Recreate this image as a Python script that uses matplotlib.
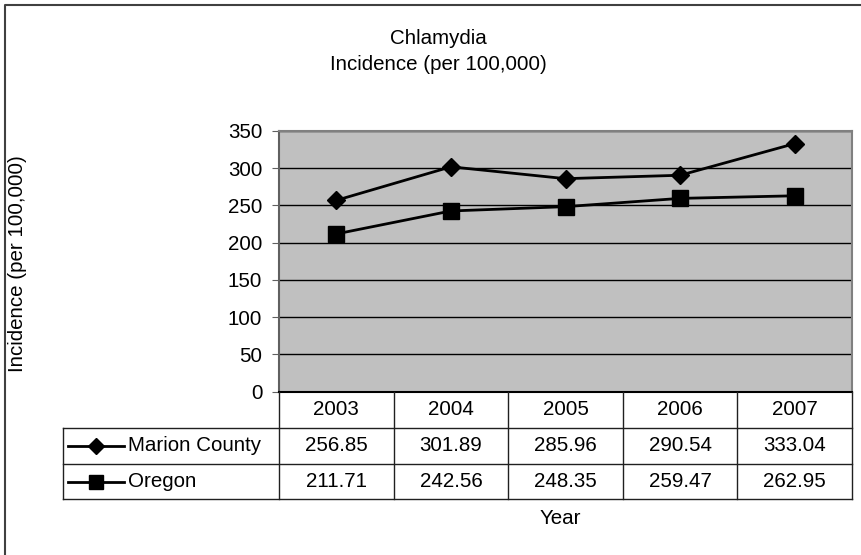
import matplotlib.pyplot as plt
from matplotlib.lines import Line2D

plt.rcParams['font.family'] = ['Liberation Sans', 'DejaVu Sans']

years = ['2003', '2004', '2005', '2006', '2007']
marion = [256.85, 301.89, 285.96, 290.54, 333.04]
oregon = [211.71, 242.56, 248.35, 259.47, 262.95]
series_names = ['Marion County', 'Oregon']
y_ticks = [0, 50, 100, 150, 200, 250, 300, 350]

W, H = 861, 555
FS = 14.8
fig = plt.figure(figsize=(W / 100, H / 100), dpi=100)

# pixel helpers for layout
def fx(px):
    return px / W

def fy(py):
    return 1 - py / H

left, right, top, bottom = 279, 852, 131, 391.5
ax = fig.add_axes([fx(left), fy(bottom), fx(right - left), (bottom - top) / H])
ax.set_facecolor('#c0c0c0')
x = range(len(years))
ax.plot(x, marion, color='black', lw=2, marker='D', ms=9, zorder=3, clip_on=False)
ax.plot(x, oregon, color='black', lw=2, marker='s', ms=11, zorder=3, clip_on=False)
ax.set_xlim(-0.5, len(years) - 0.5)
ax.set_ylim(0, 350)
ax.set_yticks(y_ticks)
ax.set_yticklabels([str(t) for t in y_ticks], fontsize=FS)
ax.set_xticks([])
ax.yaxis.grid(True, color='black', lw=1)
ax.set_axisbelow(True)
ax.tick_params(axis='y', length=5, color='#606060', pad=7)
for s in ['top', 'right']:
    ax.spines[s].set_color('#808080')
    ax.spines[s].set_linewidth(1.5)
ax.spines['left'].set_color('#606060')
ax.spines['left'].set_linewidth(1.5)
ax.spines['bottom'].set_color('black')
ax.spines['bottom'].set_linewidth(1.5)

# overlay in pixel coordinates for titles and border
ov = fig.add_axes([0, 0, 1, 1], zorder=-1)
ov.set_xlim(0, W)
ov.set_ylim(H, 0)
ov.axis('off')
ov.patch.set_alpha(0)

# outer frame (only left/top visible)
ov.plot([5, 5, W + 5], [H + 5, 5, 5], color='#404040', lw=1.5)

ov.text(438, 38, 'Chlamydia', ha='center', va='center', fontsize=FS)
ov.text(438, 64, 'Incidence (per 100,000)', ha='center', va='center', fontsize=FS)
ov.text(18, 264, 'Incidence (per 100,000)', ha='center', va='center',
        rotation=90, fontsize=FS)
ov.text(560, 519, 'Year', ha='center', va='center', fontsize=FS)

# data table
tab = fig.add_axes([0, 0, 1, 1], zorder=2)
tab.set_xlim(0, W)
tab.set_ylim(H, 0)
tab.axis('off')
tab.patch.set_alpha(0)
rows_y = [392, 427.5, 464, 499]
leg_left = 63
col_w = (right - left) / len(years)
lc = '#202020'
tab.plot([left, left], [rows_y[0], rows_y[-1]], color=lc, lw=1)
for i in range(1, len(years) + 1):
    xc = left + i * col_w
    tab.plot([xc, xc], [rows_y[0], rows_y[-1]], color=lc, lw=1)
for yl in rows_y[1:]:
    tab.plot([leg_left, right], [yl, yl], color=lc, lw=1)
tab.plot([leg_left, leg_left], [rows_y[1], rows_y[3]], color=lc, lw=1)

for i, yr in enumerate(years):
    tab.text(left + (i + 0.5) * col_w, (rows_y[0] + rows_y[1]) / 2, yr,
             ha='center', va='center', fontsize=FS)

markers = ['D', 's']
msizes = [8, 10]
for r, (name, vals) in enumerate(zip(series_names, [marion, oregon])):
    yc = (rows_y[r + 1] + rows_y[r + 2]) / 2
    tab.add_line(Line2D([68, 124], [yc, yc], color='black', lw=2))
    tab.plot([96], [yc], marker=markers[r], ms=msizes[r], color='black')
    tab.text(128, yc, name, ha='left', va='center', fontsize=FS)
    for i, v in enumerate(vals):
        tab.text(left + (i + 0.5) * col_w, yc, f'{v:.2f}',
                 ha='center', va='center', fontsize=FS)

fig.savefig('out.png', dpi=100, facecolor='white')
